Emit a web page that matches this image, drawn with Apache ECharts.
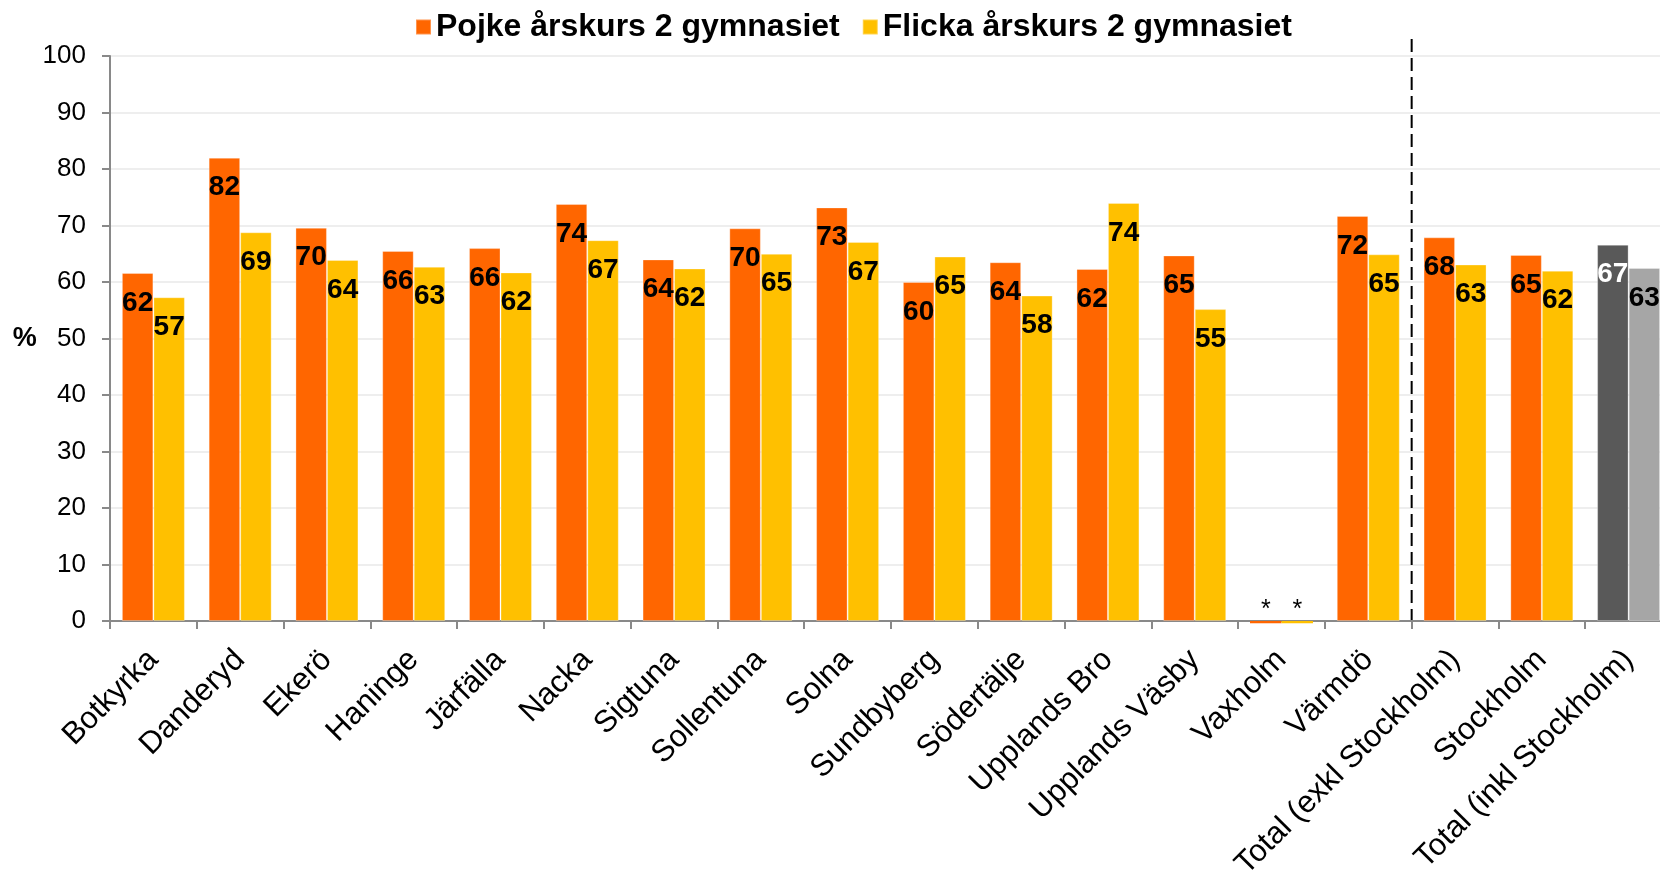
<!DOCTYPE html>
<html>
<head>
<meta charset="utf-8">
<script src="https://cdn.jsdelivr.net/npm/echarts@6/dist/echarts.min.js"></script>
<style>
html,body{margin:0;padding:0;background:#fff;}
#chart{width:1660px;height:879px;}
</style>
</head>
<body>
<div id="chart"></div>
<script>
const categories = ['Botkyrka','Danderyd','Ekerö','Haninge','Järfälla','Nacka','Sigtuna','Sollentuna','Solna','Sundbyberg','Södertälje','Upplands Bro','Upplands Väsby','Vaxholm','Värmdö','Total (exkl Stockholm)','Stockholm','Total (inkl Stockholm)'];
const seriesNames = ['Pojke årskurs 2 gymnasiet','Flicka årskurs 2 gymnasiet'];
// Vaxholm has no reported value ("*"); drawn as a tiny sliver below the axis as in the picture
const boysValues  = [61.6, 82.0, 69.6, 65.5, 66.0, 73.8, 64.0, 69.5, 73.2, 60.0, 63.5, 62.3, 64.7, -0.4, 71.7, 67.9, 64.8, 66.6];
const girlsValues = [57.3, 68.8, 63.9, 62.7, 61.7, 67.4, 62.4, 65.0, 67.1, 64.5, 57.6, 74.0, 55.2, -0.4, 64.9, 63.1, 62.0, 62.5];
const missingIndex = 13;
const highlightIndex = 17;
const dividerAfter = 14;   // dashed line between Värmdö and Total (exkl Stockholm)

const FONT = "'Liberation Sans', Arial, sans-serif";
const COLORS = ['#FF6600', '#FFC000'];
const HIGHLIGHT = ['#595959', '#A6A6A6'];
const HIGHLIGHT_LABEL = ['#FFFFFF', '#000000'];

function buildData(values, si) {
  return values.map((v, i) => {
    if (i === missingIndex) {
      return { value: v, itemStyle: { borderWidth: 0 },
               label: { formatter: '*', position: 'top', distance: -2, fontWeight: 'normal', fontSize: 25 } };
    }
    if (i === highlightIndex) {
      return { value: v, itemStyle: { color: HIGHLIGHT[si], borderColor: 'rgba(255,255,255,0.3)' }, label: { color: HIGHLIGHT_LABEL[si] } };
    }
    return v;
  });
}

const chart = echarts.init(document.getElementById('chart'), null, { renderer: 'canvas' });

const series = [boysValues, girlsValues].map((vals, si) => ({
  name: seriesNames[si],
  type: 'bar',
  data: buildData(vals, si),
  barWidth: 31.5,
  barGap: '0%',
  clip: false,
  itemStyle: { color: COLORS[si], borderColor: 'rgba(255,255,255,0.3)', borderWidth: 1 },
  label: {
    show: true,
    position: 'insideTop',
    distance: 16,
    color: '#000',
    fontFamily: FONT,
    fontWeight: 'bold',
    fontSize: 28,
    formatter: p => String(Math.round(p.value))
  },
  emphasis: { disabled: true },
  animation: false
}));

chart.setOption({
  animation: false,
  textStyle: { fontFamily: FONT },
  legend: {
    data: seriesNames,
    left: 410,
    top: 6,
    icon: 'rect',
    itemWidth: 15,
    itemHeight: 15,
    itemGap: 22,
    textStyle: { fontFamily: FONT, fontWeight: 'bold', fontSize: 32, color: '#000' }
  },
  grid: { left: 110, top: 56, width: 1562, height: 565, containLabel: false, outerBoundsMode: 'none' },
  xAxis: {
    type: 'category',
    data: categories,
    axisLine: { lineStyle: { color: '#898989', width: 2 } },
    axisTick: { show: true, length: 8, lineStyle: { color: '#898989', width: 2 } },
    axisLabel: { rotate: 45, interval: 0, fontSize: 31, color: '#000', fontFamily: FONT, margin: 34 }
  },
  yAxis: {
    type: 'value',
    min: 0, max: 100, interval: 10,
    name: '%',
    nameLocation: 'middle',
    nameRotate: 0,
    nameGap: 72,
    nameTextStyle: { fontSize: 27, fontWeight: 'bold', color: '#000', fontFamily: FONT },
    axisLine: { show: true, lineStyle: { color: '#898989', width: 2 } },
    axisTick: { show: true, length: 8, lineStyle: { color: '#898989', width: 2 } },
    axisLabel: { fontSize: 26, color: '#000', fontFamily: FONT, margin: 24 },
    splitLine: { lineStyle: { color: '#EEEEEE', width: 2 } }
  },
  series: series
});

// dashed divider at the category boundary, positioned via the chart's own scales
const xa = chart.convertToPixel({ xAxisIndex: 0 }, dividerAfter);
const xb = chart.convertToPixel({ xAxisIndex: 0 }, dividerAfter + 1);
const xDiv = (xa + xb) / 2;
const yTop = chart.convertToPixel({ yAxisIndex: 0 }, 103);
const yBot = chart.convertToPixel({ yAxisIndex: 0 }, 0);
chart.setOption({
  graphic: [{
    type: 'line',
    shape: { x1: xDiv, y1: yTop, x2: xDiv, y2: yBot },
    style: { stroke: '#000', lineWidth: 2, lineDash: [13, 6] },
    silent: true
  }]
});
</script>
</body>
</html>
